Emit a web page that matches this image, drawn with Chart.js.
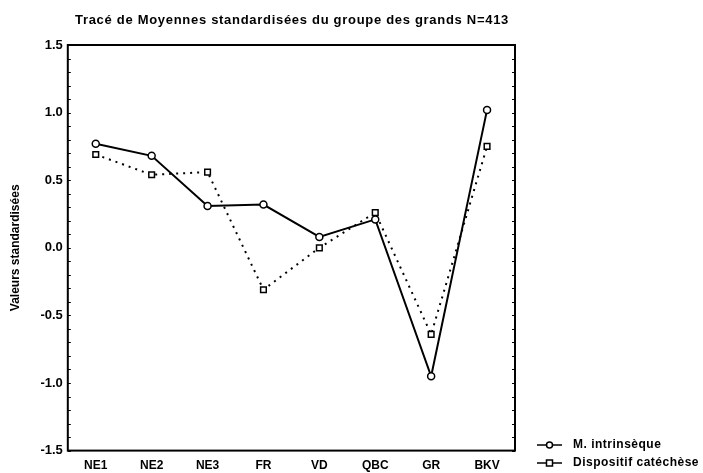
<!DOCTYPE html>
<html>
<head>
<meta charset="utf-8">
<script src="https://cdn.jsdelivr.net/npm/chart.js@4/dist/chart.umd.min.js"></script>
<style>
	html, body { margin: 0; padding: 0; background: #fff; }
	#wrap { width: 703px; height: 473px; position: relative; }
</style>
</head>
<body>
<div id="wrap"><canvas id="chart_canvas"></canvas></div>
<script>
const categories = ["NE1", "NE2", "NE3", "FR", "VD", "QBC", "GR", "BKV"];
const intrinseque = [0.77, 0.68, 0.31, 0.32, 0.08, 0.21, -0.95, 1.02];
const catechese = [0.69, 0.54, 0.56, -0.31, 0.00, 0.26, -0.64, 0.75];
const seriesNames = ["M. intrinsèque", "Dispositif catéchèse"];
const chartTitle = "Tracé de Moyennes standardisées du groupe des grands N=413";
const yAxisTitle = "Valeurs standardisées";

const fontFamily = "'Liberation Sans', Arial, sans-serif";

// frame, title and legend drawn by hand to look like the old print
const extras = {
	id: "extras",
	afterDraw: function(chart) {
		const ctx = chart.ctx;
		const area = chart.chartArea;
		ctx.save();
		ctx.strokeStyle = "#000";
		ctx.lineWidth = 2;
		ctx.strokeRect(area.left, area.top, area.right - area.left, area.bottom - area.top);

		// small inner ticks on the left and right sides
		const y = chart.scales.y;
		ctx.lineWidth = 1;
		for (let v = -1.5; v <= 1.5001; v += 0.1) {
			const py = Math.round(y.getPixelForValue(v)) + 0.5;
			ctx.beginPath();
			ctx.moveTo(area.left, py);
			ctx.lineTo(area.left + 3, py);
			ctx.moveTo(area.right, py);
			ctx.lineTo(area.right - 3, py);
			ctx.stroke();
		}

		ctx.fillStyle = "#000";
		ctx.font = "bold 13px " + fontFamily;
		ctx.letterSpacing = "0.7px";
		ctx.textBaseline = "middle";
		ctx.fillText(chartTitle, 75, 20);

		// legend
		const items = chart.data.datasets;
		const lx = 537;
		const ly = [445, 463];
		for (let i = 0; i < items.length; i++) {
			const yy = ly[i];
			ctx.strokeStyle = "#000";
			ctx.lineWidth = 1.5;
			ctx.setLineDash([]);
			ctx.beginPath();
			ctx.moveTo(lx, yy);
			ctx.lineTo(lx + 25, yy);
			ctx.stroke();
			ctx.fillStyle = "#fff";
			ctx.beginPath();
			if (items[i].pointStyle === "rect") {
				ctx.rect(lx + 9.5, yy - 3, 6, 6);
			} else {
				ctx.arc(lx + 12.5, yy, 3, 0, Math.PI * 2);
			}
			ctx.fill();
			ctx.stroke();
			ctx.fillStyle = "#000";
			ctx.font = "bold 12px " + fontFamily;
			ctx.letterSpacing = "0.5px";
			ctx.fillText(items[i].label, 573, yy);
		}
		ctx.restore();
	}
};

new Chart(document.getElementById("chart_canvas"), {
	type: "line",
	data: {
		labels: categories,
		datasets: [
			{
				label: seriesNames[0],
				data: intrinseque,
				borderColor: "#000",
				borderWidth: 2,
				pointStyle: "circle",
				pointRadius: 3.5,
				pointBackgroundColor: "#fff",
				pointBorderColor: "#000",
				pointBorderWidth: 1.5,
				tension: 0,
			},
			{
				label: seriesNames[1],
				data: catechese,
				borderColor: "#000",
				borderWidth: 2,
				borderDash: [2, 5],
				pointStyle: "rect",
				pointRadius: 4,
				pointBackgroundColor: "#fff",
				pointBorderColor: "#000",
				pointBorderWidth: 1.5,
				tension: 0,
			},
		],
	},
	options: {
		responsive: true,
		maintainAspectRatio: false,
		animation: false,
		layout: { padding: { top: 45, right: 188, bottom: -8, left: 4 } },
		plugins: {
			legend: { display: false },
			title: { display: false },
			tooltip: { enabled: false },
		},
		scales: {
			x: {
				offset: true,
				grid: { display: false, drawTicks: false },
				border: { display: false },
				ticks: {
					color: "#000",
					padding: 8,
					font: { family: fontFamily, size: 12, weight: "bold" },
				},
			},
			y: {
				min: -1.5,
				max: 1.5,
				grid: { display: false, drawTicks: false },
				border: { display: false },
				ticks: {
					stepSize: 0.5,
					color: "#000",
					padding: 5,
					font: { family: fontFamily, size: 13, weight: "bold" },
					callback: function(value) { return Number(value).toFixed(1); },
				},
				title: {
					display: true,
					text: yAxisTitle,
					color: "#000",
					padding: { top: 4, bottom: 13 },
					font: { family: fontFamily, size: 12, weight: "bold" },
				},
			},
		},
	},
	plugins: [extras],
});
</script>
</body>
</html>
